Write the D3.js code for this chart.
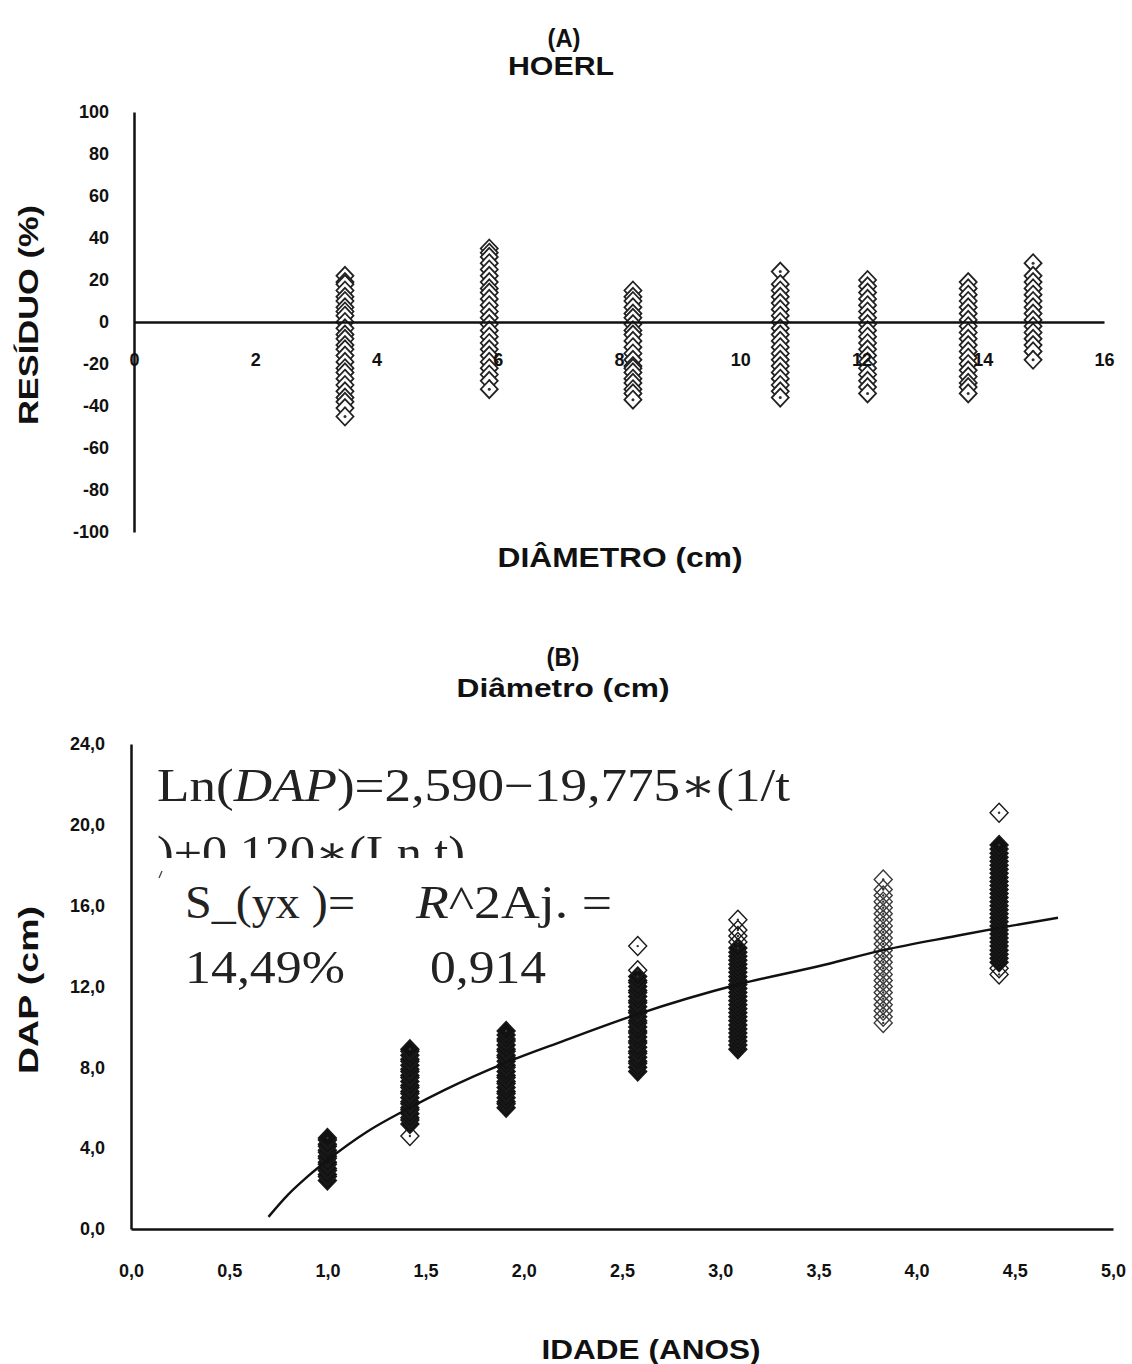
<!DOCTYPE html>
<html>
<head>
<meta charset="utf-8">
<script src="https://cdn.jsdelivr.net/npm/d3@7"></script>
<style>
  body { margin: 0; background: #fff; }
  svg { display: block; }
  .tick text { font-family: "Liberation Sans", Arial, sans-serif; font-weight: bold; font-size: 18px; fill: #111; }
  .ttl { font-family: "Liberation Sans", Arial, sans-serif; font-weight: bold; fill: #111; }
  .eq { font-family: "Liberation Serif", "DejaVu Serif", serif; font-size: 46px; fill: #222; }
</style>
</head>
<body>
<div id="chart"></div>
<script>
// ---- chart A: residuals (%) by diameter class ----
var residX = [3.48, 5.86, 8.23, 10.66, 12.1, 13.76, 14.83]
var residCol1 = [22, 19, 18, 15, 12, 10, 7, 5, 3, 0, -3, -6, -8, -11, -13, -16, -19, -22, -24, -27, -30, -33, -36, -38, -41, -45]
var residCol2 = [35, 33, 31, 28, 25, 22, 19, 16, 14, 11, 8, 5, 2, -1, -4, -7, -10, -13, -16, -19, -22, -25, -28, -32]
var residCol3 = [15, 12, 10, 7, 4, 2, -1, -4, -6, -9, -12, -15, -18, -21, -22, -24, -27, -29, -32, -34, -37]
var residCol4 = [24, 18, 15, 12, 9, 6, 3, 0, -3, -6, -9, -12, -15, -18, -21, -24, -27, -30, -33, -36]
var residCol5 = [20, 17, 14, 11, 8, 5, 2, -1, -4, -7, -10, -13, -16, -19, -22, -25, -28, -31, -34]
var residCol6 = [19, 16, 13, 10, 7, 4, 1, -2, -5, -8, -11, -14, -17, -20, -23, -26, -29, -31, -34]
var residCol7 = [28, 22, 19, 16, 13, 10, 7, 4, 1, -2, -5, -8, -11, -14, -18]
var residCols = [residCol1, residCol2, residCol3, residCol4, residCol5, residCol6, residCol7]
var ticksA_x = [0, 2, 4, 6, 8, 10, 12, 14, 16]
var ticksA_y = [-100, -80, -60, -40, -20, 0, 20, 40, 60, 80, 100]

// ---- chart B: DAP (cm) by age (years) ----
var ageX = [1.0, 1.42, 1.91, 2.58, 3.09, 3.83, 4.42]
var dapCol1 = [2.4, 2.6, 2.7, 2.9, 3.0, 3.2, 3.3, 3.5, 3.6, 3.8, 3.9, 4.1, 4.2, 4.4, 4.5]
var dapCol2 = [4.6, 5.2, 5.4, 5.5, 5.7, 5.9, 6.0, 6.2, 6.3, 6.5, 6.7, 6.8, 7.0, 7.1, 7.3, 7.5, 7.6, 7.8, 7.9, 8.1, 8.3, 8.4, 8.6, 8.8, 8.9]
var dapCol3 = [6.0, 6.2, 6.3, 6.5, 6.7, 6.8, 7.0, 7.2, 7.3, 7.5, 7.6, 7.8, 8.0, 8.1, 8.3, 8.5, 8.6, 8.8, 8.9, 9.1, 9.3, 9.4, 9.6, 9.8]
var dapCol4 = [7.8, 8.0, 8.2, 8.3, 8.5, 8.7, 8.8, 9.0, 9.2, 9.3, 9.5, 9.7, 9.8, 10.0, 10.2, 10.3, 10.5, 10.7, 10.8, 11.0, 11.2, 11.3, 11.5, 11.7, 11.8, 12.0, 12.2, 12.3, 12.5, 12.8, 14.0]
var dapCol5 = [8.9, 9.1, 9.3, 9.5, 9.7, 9.9, 10.1, 10.3, 10.5, 10.7, 10.9, 11.1, 11.3, 11.5, 11.7, 11.9, 12.1, 12.3, 12.5, 12.7, 12.9, 13.1, 13.3, 13.5, 13.7, 13.9, 14.2, 14.5, 14.8, 15.3]
var dapCol6 = [10.2, 10.5, 10.8, 11.1, 11.4, 11.7, 12.0, 12.3, 12.6, 12.9, 13.2, 13.5, 13.8, 14.1, 14.4, 14.7, 15.0, 15.3, 15.6, 15.9, 16.2, 16.5, 16.8, 17.3]
var dapCol7 = [12.6, 12.9, 13.2, 13.4, 13.6, 13.8, 14.0, 14.2, 14.4, 14.6, 14.8, 15.0, 15.2, 15.4, 15.6, 15.8, 16.0, 16.2, 16.4, 16.6, 16.8, 17.0, 17.2, 17.4, 17.6, 17.8, 18.0, 18.2, 18.4, 18.6, 18.8, 19.0, 20.6]
var dapCols = [dapCol1, dapCol2, dapCol3, dapCol4, dapCol5, dapCol6, dapCol7]

// fitted curve
var curveAge = [0.70, 0.80, 0.90, 1.00, 1.20, 1.40, 1.60, 1.90, 2.20, 2.57, 3.09, 3.50, 3.83, 4.20, 4.42, 4.72]
var curveDap = [0.6, 1.7, 2.6, 3.4, 4.8, 5.9, 6.9, 8.2, 9.3, 10.6, 12.1, 13.0, 13.8, 14.5, 14.9, 15.4]
var ticksB_x = [0, 0.5, 1, 1.5, 2, 2.5, 3, 3.5, 4, 4.5, 5]
var ticksB_y = [0, 4, 8, 12, 16, 20, 24]

var W = 1132, H = 1364

var svg = d3.select("#chart").append("svg")
  .attr("width", W)
  .attr("height", H)

var diamondA = "M0,-9L8.5,0L0,9L-8.5,0Z"
var diamondB = "M0,-9.5L9,0L0,9.5L-9,0Z"
var comma = function(d) { return d.toFixed(1).replace(".", ",") }

function styleAxis(g) {
  g.select(".domain").attr("stroke", "#111").attr("stroke-width", 2.5)
  g.selectAll(".tick line").remove()
}

function title(x, y, size, len, txt, rot) {
  var t = svg.append("text").attr("class", "ttl")
    .attr("text-anchor", "middle").style("font-size", size + "px")
    .attr("textLength", len).attr("lengthAdjust", "spacingAndGlyphs")
    .text(txt)
  if (rot) t.attr("transform", "translate(" + x + "," + y + ") rotate(-90)")
  else t.attr("x", x).attr("y", y)
  return t
}

// ================= chart A =================
var xA = d3.scaleLinear().domain([0, 16]).range([134, 1104])
var yA = d3.scaleLinear().domain([-100, 100]).range([532, 112])

title(564, 47, 25, 33, "(A)")
title(561, 75, 25, 106, "HOERL")

var gA = svg.append("g")

// markers first so the axes draw on top
residCols.forEach(function(col, i) {
  var g = gA.append("g").attr("class", "col")
  var pts = g.selectAll("g.pt").data(col).enter().append("g")
    .attr("class", "pt")
    .attr("transform", function(d) { return "translate(" + xA(residX[i]) + "," + yA(d) + ")" })
  pts.append("path").attr("d", diamondA)
    .attr("fill", "#fff").attr("stroke", "#222").attr("stroke-width", 1.8)
  pts.append("circle").attr("r", 1.5).attr("fill", "#333")
})

gA.append("g")
  .attr("transform", "translate(0," + yA(0) + ")")
  .call(d3.axisBottom(xA).tickValues(ticksA_x).tickSize(0).tickSizeOuter(0).tickPadding(31).tickFormat(function(d) { return "" + d }))
  .call(styleAxis)

gA.append("g")
  .attr("transform", "translate(" + xA(0) + ",0)")
  .call(d3.axisLeft(yA).tickValues(ticksA_y).tickSize(0).tickSizeOuter(0).tickPadding(25).tickFormat(function(d) { return "" + d }))
  .call(styleAxis)

title(38, 315, 28, 220, "RESÍDUO (%)", true)
title(620, 567, 28, 245, "DIÂMETRO (cm)")

// ================= chart B =================
var xB = d3.scaleLinear().domain([0, 5]).range([131, 1113])
var yB = d3.scaleLinear().domain([0, 24]).range([1229, 744])

title(563, 666, 25, 33, "(B)")
title(563, 697, 25, 213, "Diâmetro (cm)")

var gB = svg.append("g")

dapCols.forEach(function(col, i) {
  // closely packed points merge into a solid band; sparse ones stay as outlines
  var gap = function(j) {
    var a = j > 0 ? col[j] - col[j - 1] : 99
    var b = j < col.length - 1 ? col[j + 1] - col[j] : 99
    return Math.min(a, b)
  }
  var g = gB.append("g").attr("class", "col")
  var pts = g.selectAll("g.pt").data(col).enter().append("g")
    .attr("class", "pt")
    .attr("transform", function(d) { return "translate(" + xB(ageX[i]) + "," + yB(d) + ")" })
  pts.append("path").attr("d", diamondB)
    .attr("fill", function(d, j) { return gap(j) < 0.25 ? "#111" : "none" })
    .attr("stroke", i == 5 ? "#3a3a3a" : "#1a1a1a")
    .attr("stroke-width", function(d, j) { return gap(j) < 0.25 ? 1.4 : 1.4 })
  pts.append("circle").attr("r", 1.2).attr("fill", "#333")
})

var line = d3.line()
  .x(function(d, i) { return xB(curveAge[i]) })
  .y(function(d) { return yB(d) })
  .curve(d3.curveMonotoneX)

gB.append("path").datum(curveDap)
  .attr("d", line)
  .attr("fill", "none").attr("stroke", "#111").attr("stroke-width", 2.4)

gB.append("g")
  .attr("transform", "translate(0," + yB(0) + ")")
  .call(d3.axisBottom(xB).tickValues(ticksB_x).tickSize(0).tickSizeOuter(0).tickPadding(35).tickFormat(comma))
  .call(styleAxis)

gB.append("g")
  .attr("transform", "translate(" + xB(0) + ",0)")
  .call(d3.axisLeft(yB).tickValues(ticksB_y).tickSize(0).tickSizeOuter(0).tickPadding(26).tickFormat(comma))
  .call(styleAxis)

title(38, 990, 28, 168, "DAP (cm)", true)
title(651, 1359, 28, 219, "IDADE (ANOS)")

// equation box (text pasted into the chart, second line is cut off)
svg.append("clipPath").attr("id", "eqclip")
  .append("rect").attr("x", 140).attr("y", 740).attr("width", 700).attr("height", 118)

var eq = svg.append("g").attr("clip-path", "url(#eqclip)")
var l1 = eq.append("text").attr("class", "eq").attr("x", 157).attr("y", 801)
  .attr("textLength", 633).attr("lengthAdjust", "spacingAndGlyphs")
l1.append("tspan").text("Ln(")
l1.append("tspan").style("font-style", "italic").text("DAP")
l1.append("tspan").text(")=2,590\u221219,775\u2217(1/t")
eq.append("text").attr("class", "eq").attr("x", 157).attr("y", 868)
  .attr("textLength", 308).attr("lengthAdjust", "spacingAndGlyphs")
  .text(")+0,120\u2217(Ln t)")

// stray mark left of the third line
svg.append("path").attr("d", "M159,878L162,871")
  .attr("stroke", "#444").attr("stroke-width", 1.3)

svg.append("text").attr("class", "eq").attr("x", 185).attr("y", 918)
  .attr("textLength", 170).attr("lengthAdjust", "spacingAndGlyphs").text("S_(yx )=")
var r2 = svg.append("text").attr("class", "eq").attr("x", 416).attr("y", 918)
  .attr("textLength", 196).attr("lengthAdjust", "spacingAndGlyphs")
r2.append("tspan").style("font-style", "italic").text("R")
r2.append("tspan").text("^2Aj. =")
svg.append("text").attr("class", "eq").attr("x", 185).attr("y", 983)
  .attr("textLength", 160).attr("lengthAdjust", "spacingAndGlyphs").text("14,49%")
svg.append("text").attr("class", "eq").attr("x", 430).attr("y", 983)
  .attr("textLength", 116).attr("lengthAdjust", "spacingAndGlyphs").text("0,914")
</script>
</body>
</html>
